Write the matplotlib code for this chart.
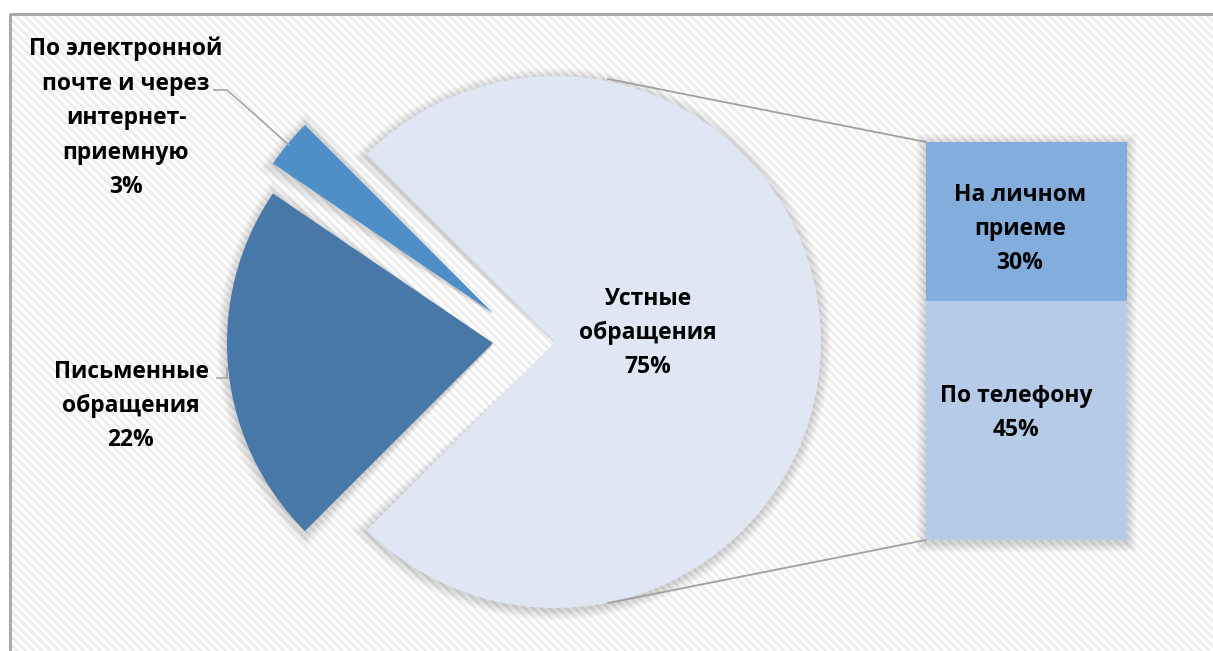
import numpy as np
import matplotlib.pyplot as plt
from matplotlib.patches import Rectangle, Wedge

plt.rcParams['font.family'] = ['Open Sans', 'DejaVu Sans']
plt.rcParams['hatch.linewidth'] = 1.8

# pie: oral (other) first, then e-mail, then written
pie_labels = ['Устные\nобращения', 'По электронной\nпочте и через\nинтернет-\nприемную',
              'Письменные\nобращения']
pie_values = [75, 3, 22]
pie_colors = ['#E0E6F3', '#4F8FC8', '#4878A8']

# bar of pie: breakdown of oral requests
bar_labels = ['По телефону', 'На личном\nприеме']
bar_values = [45, 30]
bar_colors = ['#B6CBE7', '#82ADDC']

W, H = 1213, 651
fig = plt.figure(figsize=(W / 100, H / 100), dpi=100)
ax = fig.add_axes([0, 0, 1, 1])

# hatched background and frame
ax.add_patch(Rectangle((10, -5), W, H - 9, facecolor='white', edgecolor='#ececec',
                       hatch='\\\\\\\\', lw=0, zorder=0))
ax.plot([10, 10, W], [-5, H - 14, H - 14], color='#a6a6a6', lw=2, zorder=1)

cx, cy, R = 555, H - 342, 266
start = -135
# how far the two small slices are pulled out (px)
shift = [(0, 0), (-62, 29), (-62, -1)]

wedges, _ = ax.pie(pie_values, colors=pie_colors, startangle=start, counterclock=True,
                   center=(cx, cy), radius=R, frame=True,
                   wedgeprops=dict(lw=0, zorder=3))
for w, (dx, dy) in zip(wedges, shift):
    w.set_center((cx + dx, cy + dy))
    # soft shadow under each slice
    for k in range(10, 0, -1):
        ax.add_patch(Wedge((cx + dx, cy + dy - 2), R + k, w.theta1 - 0.25 * k,
                           w.theta2 + 0.25 * k, facecolor='black', alpha=0.015,
                           lw=0, zorder=2))
ax.set_xlim(0, W)
ax.set_ylim(0, H)
ax.set_axis_off()

txt = dict(ha='center', va='center', fontsize=16.5, fontweight='bold', color='black',
           linespacing=1.58, zorder=6)
ax.text(648, H - 333, f'{pie_labels[0]}\n{pie_values[0]}%', **txt)
ax.text(126, H - 118, f'{pie_labels[1]}\n{pie_values[1]}%', **txt)
ax.text(131, H - 406, f'{pie_labels[2]}\n{pie_values[2]}%', **txt)

# leader lines
ax.plot([214, 227, 289], [H - 90, H - 90, H - 145], color='#a6a6a6', lw=1.2, zorder=5)
ax.plot([217, 227, 227], [H - 378, H - 378, H - 368], color='#a6a6a6', lw=1.2, zorder=5)

# connector lines to the bar
bx0, bx1, by0, by1 = 926, 1127, H - 540, H - 142
ax.plot([608, bx0], [H - 79, by1], color='#a0a0a0', lw=1.3, zorder=4)
ax.plot([608, bx0], [H - 603, by0], color='#a0a0a0', lw=1.3, zorder=4)

# bar shadow
for k in range(10, 0, -1):
    ax.add_patch(Rectangle((bx0 - k, by0 - k - 2), bx1 - bx0 + 2 * k, by1 - by0 + 2 * k,
                           facecolor='black', alpha=0.015, lw=0, zorder=2))

bax = fig.add_axes([bx0 / W, by0 / H, (bx1 - bx0) / W, (by1 - by0) / H])
bottom = 0
for lab, v, c in zip(bar_labels, bar_values, bar_colors):
    bax.bar(0, v, width=1, bottom=bottom, color=c, lw=0)
    bottom += v
bax.set_xlim(-0.5, 0.5)
bax.set_ylim(0, sum(bar_values))
bax.set_axis_off()
bax.text(1016, H - 413, f'{bar_labels[0]}\n{bar_values[0]}%', transform=ax.transData, **txt)
bax.text(1020, H - 229, f'{bar_labels[1]}\n{bar_values[1]}%', transform=ax.transData, **txt)

fig.savefig('out.png', dpi=100)
